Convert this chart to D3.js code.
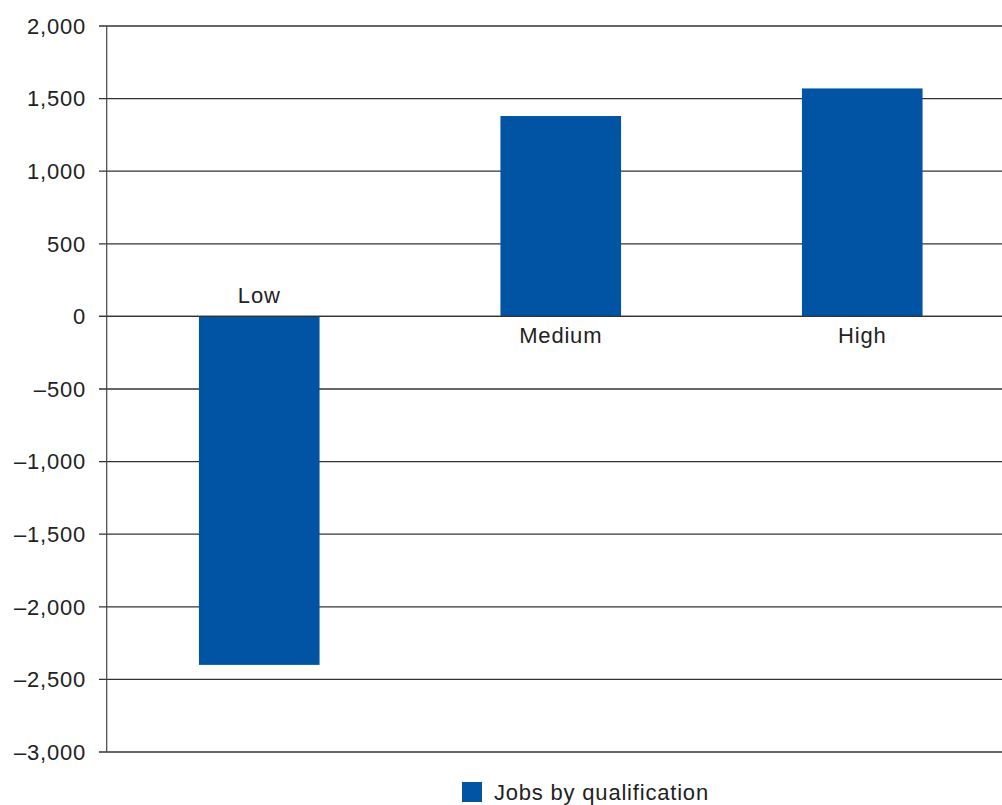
<!DOCTYPE html>
<html><head><meta charset="utf-8">
<script src="https://cdn.jsdelivr.net/npm/d3@7"></script>
<style>body{margin:0;background:#fff}svg{display:block}text{font-family:"Liberation Sans",Arial,sans-serif;letter-spacing:0.8px}</style>
</head><body>
<svg id="c" width="1002" height="805"></svg>
<script>
const categories = ["Low", "Medium", "High"];
const values = [-2400, 1380, 1570];
const tickValues = [2000, 1500, 1000, 500, 0, -500, -1000, -1500, -2000, -2500, -3000];
const seriesName = "Jobs by qualification";

const svg = d3.select("#c");
const axisX = 106.7;
const y = d3.scaleLinear().domain([-3000, 2000]).range([752, 26]);
const x = d3.scaleBand().domain(categories).range([108.5, 1013]).paddingInner(0.6).paddingOuter(0.3);
const color = "#0054a3";
const fmt = v => d3.format(",")(v).replace("\u2212", "\u2013");

// gridlines
svg.append("g").selectAll("line").data(tickValues).join("line")
  .attr("x1", 99).attr("x2", 1002)
  .attr("y1", d => y(d)).attr("y2", d => y(d))
  .attr("stroke", "#333").attr("stroke-width", 1.3);

// tick labels
svg.append("g").selectAll("text").data(tickValues).join("text")
  .attr("x", 86).attr("y", d => y(d)).attr("dy", "0.35em")
  .attr("text-anchor", "end").attr("font-size", 22).attr("fill", "#222")
  .text(fmt);

// bars
svg.append("g").selectAll("rect").data(values).join("rect")
  .attr("x", (d, i) => x(categories[i]))
  .attr("width", x.bandwidth())
  .attr("y", d => y(Math.max(0, d)))
  .attr("height", d => Math.abs(y(d) - y(0)))
  .attr("fill", color);

// zero line over bars
svg.append("line").attr("x1", 99).attr("x2", 1002).attr("y1", y(0)).attr("y2", y(0))
  .attr("stroke", "#333").attr("stroke-width", 1.3);

// y axis line
svg.append("line").attr("x1", axisX).attr("x2", axisX).attr("y1", y(2000)).attr("y2", y(-3000))
  .attr("stroke", "#444").attr("stroke-width", 1.2);

// category labels
svg.append("g").selectAll("text").data(values).join("text")
  .attr("x", (d, i) => x(categories[i]) + x.bandwidth() / 2)
  .attr("y", d => d < 0 ? y(0) - 13 : y(0) + 27)
  .attr("text-anchor", "middle").attr("font-size", 22).attr("fill", "#222")
  .text((d, i) => categories[i]);

// legend
svg.append("rect").attr("x", 462).attr("y", 782).attr("width", 20).attr("height", 20).attr("fill", color);
svg.append("text").attr("x", 494).attr("y", 800).attr("font-size", 22).attr("fill", "#222").text(seriesName);
</script>
</body></html>
